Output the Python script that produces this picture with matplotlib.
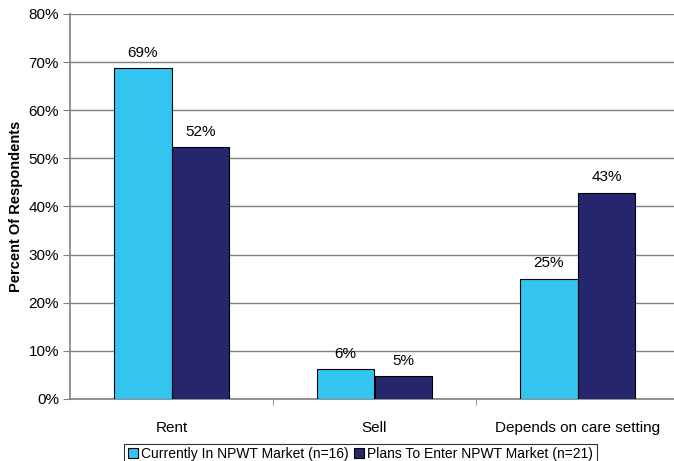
import matplotlib
matplotlib.use("Agg")
import matplotlib.pyplot as plt
from matplotlib.ticker import FuncFormatter
import numpy as np

categories = ["Rent", "Sell", "Depends on care setting"]
series_names = ["Currently In NPWT Market (n=16)", "Plans To Enter NPWT Market (n=21)"]
current_pct = [68.75, 6.25, 25.0]
plans_pct = [52.38, 4.76, 42.86]
colors = ["#33C4EF", "#26266E"]

plt.rcParams["font.family"] = ["Liberation Sans", "DejaVu Sans"]

fig = plt.figure(figsize=(6.74, 4.61), dpi=100)
ax = fig.add_axes([70 / 674, 1 - 399 / 461, 604 / 674, 385 / 461])

x = np.arange(len(categories))
w = 0.285
for offs, vals, col, name in [(-w / 2, current_pct, colors[0], series_names[0]),
                              (w / 2, plans_pct, colors[1], series_names[1])]:
    bars = ax.bar(x + offs, vals, w, color=col, edgecolor="black", linewidth=0.8,
                  label=name, zorder=3)
    for b, v in zip(bars, vals):
        ax.annotate(f"{v:.0f}%", (b.get_x() + b.get_width() / 2, v),
                    xytext=(0, 6), textcoords="offset points",
                    ha="center", va="bottom", fontsize=11)

ax.set_ylim(0, 80)
ax.set_xlim(-0.5, -0.5 + 604 / 203)
ax.set_yticks(np.arange(0, 81, 10))
ax.yaxis.set_major_formatter(FuncFormatter(lambda v, _: f"{v:.0f}%"))
ax.grid(axis="y", color="#808080", linewidth=1.0, zorder=0)
ax.set_axisbelow(True)

# category labels centered, ticks drawn between categories
ax.set_xticks(x)
ax.set_xticklabels(categories, fontsize=11)
ax.tick_params(axis="x", length=0, pad=16)
ax.set_xticks(np.arange(0.5, len(categories) - 0.5), minor=True)
ax.tick_params(axis="x", which="minor", length=4, color="#808080", direction="out")
ax.tick_params(axis="y", length=5, color="#808080", labelsize=11, pad=3)

for s in ["top", "right"]:
    ax.spines[s].set_visible(False)
for s in ["left", "bottom"]:
    ax.spines[s].set_color("#808080")
    ax.spines[s].set_linewidth(1.2)

ax.set_ylabel("Percent Of Respondents", fontsize=10.5, fontweight="bold")
ax.yaxis.set_label_coords(-47 / 604, 0.5)

leg = fig.legend(loc="lower center", bbox_to_anchor=(0.535, -0.008), ncol=2,
                 fontsize=10, frameon=True, fancybox=False, edgecolor="black",
                 handlelength=0.7, handleheight=0.7, handletextpad=0.25,
                 columnspacing=0.4, borderpad=0.25, borderaxespad=0.0)
leg.get_frame().set_linewidth(0.8)

fig.savefig("out.png", dpi=100)
